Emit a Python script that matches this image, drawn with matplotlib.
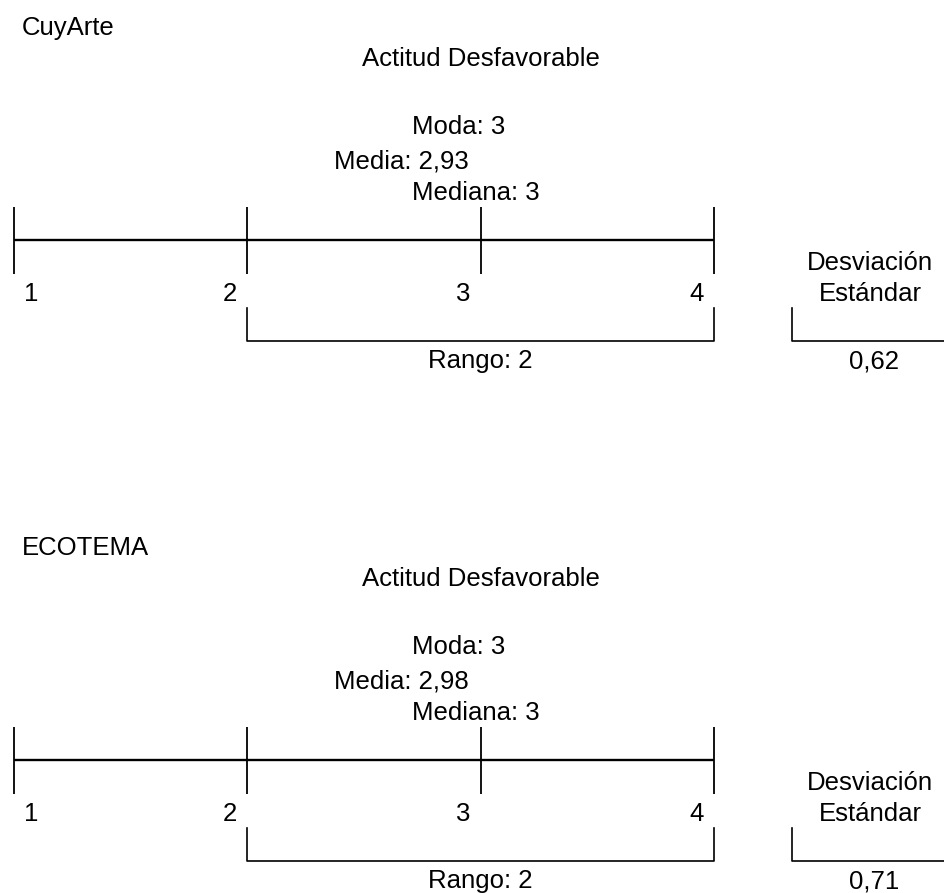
import matplotlib
matplotlib.use("Agg")
import matplotlib.pyplot as plt

plt.rcParams['font.family'] = ['Liberation Sans', 'DejaVu Sans']

# datos de cada grupo
grupos = ["CuyArte", "ECOTEMA"]
titulo = "Actitud Desfavorable"
escala = [1, 2, 3, 4]
moda = [3, 3]
media = ["2,93", "2,98"]
mediana = [3, 3]
minimo = [2, 2]
maximo = [4, 4]
desv = ["0,62", "0,71"]

W, H = 944, 893
x0_px, unit_px = 14, 233.33   # posicion del 1 y ancho de una unidad en pixeles


def px(x):
    # pasa pixeles a unidades de la escala
    return escala[0] + (x - x0_px) / unit_px


fig = plt.figure(figsize=(W / 100, H / 100), dpi=100)
ax = fig.add_axes([0, 0, 1, 1])
ax.set_xlim(px(0), px(W))
ax.set_ylim(H, 0)
ax.axis('off')

fs = 18.5
k = dict(color='black', fontsize=fs)
gap = 10 / unit_px

for g, nombre in enumerate(grupos):
    dy = g * 520
    ax.text(px(22), 28 + dy, nombre, ha='left', va='center', **k)
    ax.text(3, 59 + dy, titulo, ha='center', va='center', **k)
    ax.text(px(412), 127 + dy, f"Moda: {moda[g]}", ha='left', va='center', **k)
    ax.text(px(334), 161 + dy, f"Media: {media[g]}", ha='left', va='center', **k)
    ax.text(px(412), 193 + dy, f"Mediana: {mediana[g]}", ha='left', va='center', **k)

    # linea de la escala
    ax.plot([escala[0], escala[-1]], [240 + dy, 240 + dy], color='black', lw=1.7,
            solid_capstyle='butt')
    for v in escala:
        ax.plot([v, v], [207 + dy, 274 + dy], color='black', lw=1.3, solid_capstyle='butt')
        if v == escala[0]:
            ax.text(v + gap, 294 + dy, str(v), ha='left', va='center', **k)
        else:
            ax.text(v - gap, 294 + dy, str(v), ha='right', va='center', **k)

    # rango
    ax.plot([minimo[g], minimo[g], maximo[g], maximo[g]],
            [308 + dy, 341 + dy, 341 + dy, 308 + dy], color='black', lw=1.2)
    ax.text((minimo[g] + maximo[g]) / 2, 361 + dy, f"Rango: {maximo[g] - minimo[g]}",
            ha='center', va='center', **k)

    # desviacion estandar
    ax.text(px(870), 263 + dy, "Desviación", ha='center', va='center', **k)
    ax.text(px(870), 294 + dy, "Estándar", ha='center', va='center', **k)
    ax.plot([px(792), px(792), px(W + 5)], [308 + dy, 341 + dy, 341 + dy],
            color='black', lw=1.2)
    ax.text(px(874), 361 + dy, desv[g], ha='center', va='center', **k)

fig.savefig("out.png", dpi=100, facecolor='white')
